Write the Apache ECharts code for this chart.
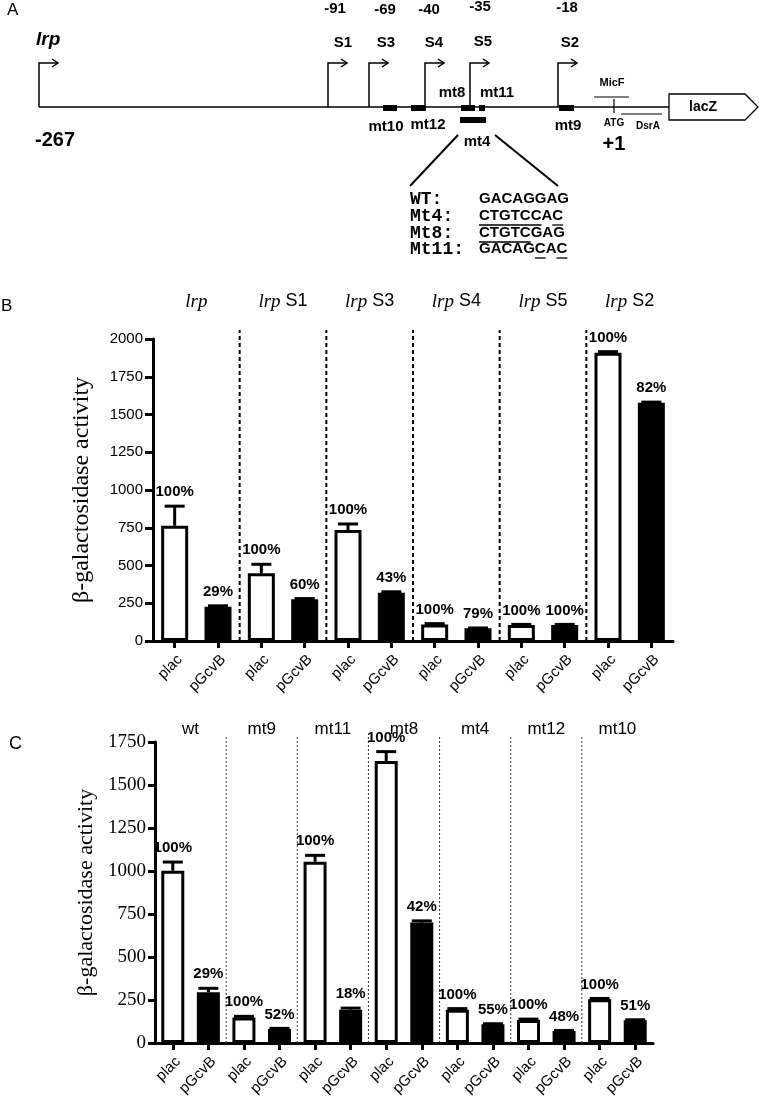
<!DOCTYPE html>
<html><head><meta charset="utf-8">
<script src="https://cdn.jsdelivr.net/npm/echarts@6/dist/echarts.min.js"></script>
<style>html,body{margin:0;padding:0;background:#fff}#c{width:759px;height:1102px}</style>
</head><body><div id="c"></div>
<script>
// ---------- Panel B data ----------
const groupsB = ['lrp', 'lrp S1', 'lrp S3', 'lrp S4', 'lrp S5', 'lrp S2'];
const catsB = ['plac','pGcvB','plac','pGcvB','plac','pGcvB','plac','pGcvB','plac','pGcvB','plac','pGcvB'];
const valuesB = [763, 227, 448, 276, 735, 320, 110, 84, 106, 106, 1909, 1578];
const errB = [130, 6, 60, 5, 40, 6, 5, 2, 4, 4, 7, 4];
const pctB = ['100%','29%','100%','60%','100%','43%','100%','79%','100%','100%','100%','82%'];
const ticksB = [0, 250, 500, 750, 1000, 1250, 1500, 1750, 2000];

// ---------- Panel C data ----------
const groupsC = ['wt', 'mt9', 'mt11', 'mt8', 'mt4', 'mt12', 'mt10'];
const catsC = ['plac','pGcvB','plac','pGcvB','plac','pGcvB','plac','pGcvB','plac','pGcvB','plac','pGcvB','plac','pGcvB'];
const valuesC = [1001, 295, 148, 82, 1054, 194, 1640, 701, 194, 109, 134, 70, 254, 132];
const errC = [51, 23, 7, 3, 37, 9, 54, 9, 6, 3, 5, 3, 5, 3];
const pctC = ['100%','29%','100%','52%','100%','18%','100%','42%','100%','55%','100%','48%','100%','51%'];
const ticksC = [0, 250, 500, 750, 1000, 1250, 1500, 1750];

// ---------- Panel A schematic ----------
const promoterSites = ['lrp', 'S1', 'S3', 'S4', 'S5', 'S2'];
const promoterCoords = ['-267', '-91', '-69', '-40', '-35', '-18'];
const mutNames = ['mt10', 'mt12', 'mt8', 'mt11', 'mt9', 'mt4'];
const seqLabels = ['WT:', 'Mt4:', 'Mt8:', 'Mt11:'];
const seqs = ['GACAGGAG', 'CTGTCCAC', 'CTGTCGAG', 'GACAGCAC'];
const seqUnderlines = [[], [[0, 6], [7, 8]], [[0, 5]], [[5, 6], [7, 8]]];

// schematic layout (diagram units)
const LA = {
  lineY: 107, arrowTop: 63, arrowLen: 19,
  arrowX: [39, 328, 369, 425, 470, 558],
  siteLabel: [[36, 40], [343, 43], [386, 43], [434, 43], [483, 42], [570, 43]],
  coordLabel: [[55, 140], [335, 9], [385, 10], [429, 10], [480, 7], [567, 8]],
  mutBox: [[383, 397, 108], [411, 426, 108], [461, 475, 108], [479, 485, 108], [559, 574, 108], [460, 486, 120]],
  mutLabel: [[386, 127], [428, 125], [452, 93], [497, 93], [568, 126], [477, 142]],
  micF: [594, 629, 97, 612, 83], atg: [614, 99, 113, 123], dsrA: [621, 662, 114, 648, 126], plus1: [614, 144],
  lacZ: [669, 745, 758, 94, 120],
  zoomL: [[458, 135], [410, 186]], zoomR: [[495, 135], [558, 186]],
  seqRowY: [199, 216, 233, 249], seqLabelX: 410, seqX: 479
};

const SANS = '"Liberation Sans", Arial, sans-serif';
const SERIF = '"Liberation Serif", "Times New Roman", serif';
const MONO = '"Liberation Mono", "Courier New", monospace';
const SEQ_FONT = 'bold 15px ' + SANS;
const mctx = document.createElement('canvas').getContext('2d');

function renderDiagram(params, api) {
  const P = (x, y) => api.coord([x, y]);
  const ch = [];
  const poly = (pts, w, fill) => ch.push({
    type: fill ? 'polygon' : 'polyline',
    shape: { points: pts.map(p => P(p[0], p[1])) },
    style: { stroke: '#000', lineWidth: w, fill: fill || null, lineJoin: 'miter' }
  });
  const txt = (s, x, y, font, align) => {
    const c = P(x, y);
    ch.push({ type: 'text', style: { text: s, x: c[0], y: c[1], font: font, fill: '#000', align: align || 'center', verticalAlign: 'middle' } });
  };
  const box = (x1, x2, yc, h) => {
    const a = P(x1, yc - h / 2), b = P(x2, yc + h / 2);
    ch.push({ type: 'rect', shape: { x: a[0], y: a[1], width: b[0] - a[0], height: b[1] - a[1] }, style: { fill: '#000' } });
  };
  const Y = LA.lineY;
  poly([[LA.arrowX[0], Y], [LA.lacZ[0], Y]], 1.5);
  promoterSites.forEach((s, i) => {
    const x = LA.arrowX[i], t = LA.arrowTop, e = x + LA.arrowLen;
    poly([[x, Y], [x, t], [e, t]], 1.5);
    poly([[e - 6, t - 4], [e, t], [e - 6, t + 4]], 1.5);
    const sl = LA.siteLabel[i], cl = LA.coordLabel[i];
    if (i === 0) {
      txt(s, sl[0], sl[1], 'italic bold 19px ' + SANS, 'left');
      txt(promoterCoords[i], cl[0], cl[1], 'bold 20px ' + SANS);
    } else {
      txt(s, sl[0], sl[1], 'bold 15px ' + SANS);
      txt(promoterCoords[i], cl[0], cl[1], 'bold 15px ' + SANS);
    }
  });
  mutNames.forEach((m, i) => {
    const b = LA.mutBox[i];
    box(b[0], b[1], b[2], 6);
    txt(m, LA.mutLabel[i][0], LA.mutLabel[i][1], 'bold 15px ' + SANS);
  });
  poly([[LA.micF[0], LA.micF[2]], [LA.micF[1], LA.micF[2]]], 1.2);
  txt('MicF', LA.micF[3], LA.micF[4], 'bold 11px ' + SANS);
  poly([[LA.atg[0], LA.atg[1]], [LA.atg[0], LA.atg[2]]], 1.2);
  txt('ATG', LA.atg[0], LA.atg[3], 'bold 10px ' + SANS);
  poly([[LA.dsrA[0], LA.dsrA[2]], [LA.dsrA[1], LA.dsrA[2]]], 1.2);
  txt('DsrA', LA.dsrA[3], LA.dsrA[4], 'bold 10px ' + SANS);
  txt('+1', LA.plus1[0], LA.plus1[1], 'bold 20px ' + SANS);
  const z = LA.lacZ, zm = (z[3] + z[4]) / 2;
  poly([[z[0], z[3]], [z[1], z[3]], [z[2], zm], [z[1], z[4]], [z[0], z[4]], [z[0], z[3]]], 1.3, '#fff');
  txt('lacZ', (z[0] + z[1]) / 2 - 4, zm, 'bold 14px ' + SANS);
  poly(LA.zoomL, 2);
  poly(LA.zoomR, 2);
  mctx.font = SEQ_FONT;
  seqLabels.forEach((l, i) => {
    const y = LA.seqRowY[i];
    txt(l, LA.seqLabelX, y, 'bold 18px ' + MONO, 'left');
    txt(seqs[i], LA.seqX, y, SEQ_FONT, 'left');
    seqUnderlines[i].forEach(r => {
      const x1 = LA.seqX + mctx.measureText(seqs[i].slice(0, r[0])).width;
      const x2 = LA.seqX + mctx.measureText(seqs[i].slice(0, r[1])).width;
      poly([[x1, y + 9], [x2, y + 9]], 1.3);
    });
  });
  return { type: 'group', children: ch };
}

function errorRenderer(pcts, capHalf) {
  return function (params, api) {
    const i = api.value(0);
    const b = api.coord([i, api.value(1)]);
    const t = api.coord([i, api.value(2)]);
    return { type: 'group', children: [
      { type: 'line', shape: { x1: b[0], y1: b[1], x2: t[0], y2: t[1] }, style: { stroke: '#000', lineWidth: 3 } },
      { type: 'line', shape: { x1: t[0] - capHalf, y1: t[1], x2: t[0] + capHalf, y2: t[1] }, style: { stroke: '#000', lineWidth: 3 } },
      { type: 'text', style: { text: pcts[params.dataIndex], x: t[0], y: t[1] - 14, font: 'bold 15px ' + SANS, fill: '#000', align: 'center', verticalAlign: 'middle' } }
    ] };
  };
}

function sepRenderer(yMax, ext, width, dash, color) {
  return function (params, api) {
    const i = api.value(0);
    const c0 = api.coord([i - 1, 0]), c1 = api.coord([i, 0]);
    const x = (c0[0] + c1[0]) / 2;
    const yt = api.coord([i, yMax])[1] - ext;
    return { type: 'line', shape: { x1: x, y1: c0[1], x2: x, y2: yt }, style: { stroke: color, lineWidth: width, lineDash: dash } };
  };
}

const barData = (vals) => vals.map((v, i) => ({ value: v, itemStyle: { color: i % 2 ? '#000' : '#fff' } }));
const errData = (vals, errs) => vals.map((v, i) => [i, v, v + errs[i]]);
const sepData = (groups) => groups.slice(1).map((g, k) => [2 * (k + 1), 0]);

const catAxis = (gi, data, fs, margin) => ({
  type: 'category', gridIndex: gi, data: data, boundaryGap: true,
  axisLine: { show: true, lineStyle: { color: '#000', width: 3 } },
  axisTick: { show: true, alignWithLabel: true, length: 7, lineStyle: { color: '#000', width: 3 } },
  axisLabel: { interval: 0, rotate: 45, fontSize: fs, color: '#000', fontFamily: SANS, margin: margin, verticalAlign: 'top' },
  splitLine: { show: false }
});
const groupAxis = (gi, data, margin, fmt, rich, fs) => ({
  type: 'category', gridIndex: gi, data: data, position: 'top', boundaryGap: true,
  axisLine: { show: false }, axisTick: { show: false }, splitLine: { show: false },
  axisLabel: { interval: 0, margin: margin, fontSize: fs, color: '#000', fontFamily: SANS, formatter: fmt, rich: rich }
});

const option = {
  animation: false,
  backgroundColor: '#fff',
  graphic: [
    { type: 'text', left: 7, top: 2, style: { text: 'A', font: '17px ' + SANS, fill: '#000' } },
    { type: 'text', left: 1, top: 298, style: { text: 'B', font: '17px ' + SANS, fill: '#000' } },
    { type: 'text', left: 9, top: 735, style: { text: 'C', font: '18px ' + SANS, fill: '#000' } }
  ],
  grid: [
    { left: 0, top: 0, width: 759, height: 290, containLabel: false, outerBoundsMode: 'none' },
    { left: 153, top: 339, width: 520, height: 302, containLabel: false, outerBoundsMode: 'none' },
    { left: 155, top: 742, width: 498, height: 301, containLabel: false, outerBoundsMode: 'none' }
  ],
  xAxis: [
    { type: 'value', gridIndex: 0, min: 0, max: 759, show: false },
    catAxis(1, catsB, 15, 11),
    groupAxis(1, groupsB, 28, v => v.indexOf('lrp') === 0 ? '{i|lrp}' + v.slice(3) : v,
      { i: { fontFamily: SERIF, fontStyle: 'italic', fontSize: 19, color: '#000' } }, 18),
    catAxis(2, catsC, 15, 11),
    groupAxis(2, groupsC, 4, null, null, 17)
  ],
  yAxis: [
    { type: 'value', gridIndex: 0, min: 0, max: 290, inverse: true, show: false },
    { type: 'value', gridIndex: 1, min: ticksB[0], max: ticksB[ticksB.length - 1], interval: ticksB[1] - ticksB[0],
      axisLine: { show: true, lineStyle: { color: '#000', width: 3 } },
      axisTick: { show: true, length: 8, lineStyle: { color: '#000', width: 3 } },
      axisLabel: { fontSize: 15, color: '#000', fontFamily: SANS, margin: 10, formatter: v => String(v) },
      splitLine: { show: false },
      name: 'β-galactosidase activity', nameLocation: 'middle', nameRotate: 90, nameGap: 59,
      nameTextStyle: { fontFamily: SERIF, fontSize: 24, color: '#000' } },
    { type: 'value', gridIndex: 2, min: ticksC[0], max: ticksC[ticksC.length - 1], interval: ticksC[1] - ticksC[0],
      axisLine: { show: true, lineStyle: { color: '#000', width: 3 } },
      axisTick: { show: true, length: 7, lineStyle: { color: '#000', width: 3 } },
      axisLabel: { fontSize: 19, color: '#000', fontFamily: SERIF, margin: 9, formatter: v => String(v) },
      splitLine: { show: false },
      name: 'β-galactosidase activity', nameLocation: 'middle', nameRotate: 90, nameGap: 57,
      nameTextStyle: { fontFamily: SERIF, fontSize: 22, color: '#000' } }
  ],
  series: [
    { type: 'custom', xAxisIndex: 0, yAxisIndex: 0, data: [[0, 0]], renderItem: renderDiagram, silent: true },
    { type: 'custom', xAxisIndex: 1, yAxisIndex: 1, data: sepData(groupsB), renderItem: sepRenderer(ticksB[ticksB.length - 1], 9, 2, [4, 3], '#000'), z: 1 },
    { type: 'bar', xAxisIndex: 1, yAxisIndex: 1, barWidth: 27, data: barData(valuesB), itemStyle: { borderColor: '#000', borderWidth: 3 }, z: 2 },
    { type: 'custom', xAxisIndex: 1, yAxisIndex: 1, data: errData(valuesB, errB), renderItem: errorRenderer(pctB, 10), z: 3 },
    { type: 'custom', xAxisIndex: 3, yAxisIndex: 2, data: sepData(groupsC), renderItem: sepRenderer(ticksC[ticksC.length - 1], 5, 1, [2, 2], '#333'), z: 1 },
    { type: 'bar', xAxisIndex: 3, yAxisIndex: 2, barWidth: 23, data: barData(valuesC), itemStyle: { borderColor: '#000', borderWidth: 3 }, z: 2 },
    { type: 'custom', xAxisIndex: 3, yAxisIndex: 2, data: errData(valuesC, errC), renderItem: errorRenderer(pctC, 10), z: 3 }
  ]
};
const chart = echarts.init(document.getElementById('c'), null, { renderer: 'canvas' });
chart.setOption(option);
</script>
</body></html>
